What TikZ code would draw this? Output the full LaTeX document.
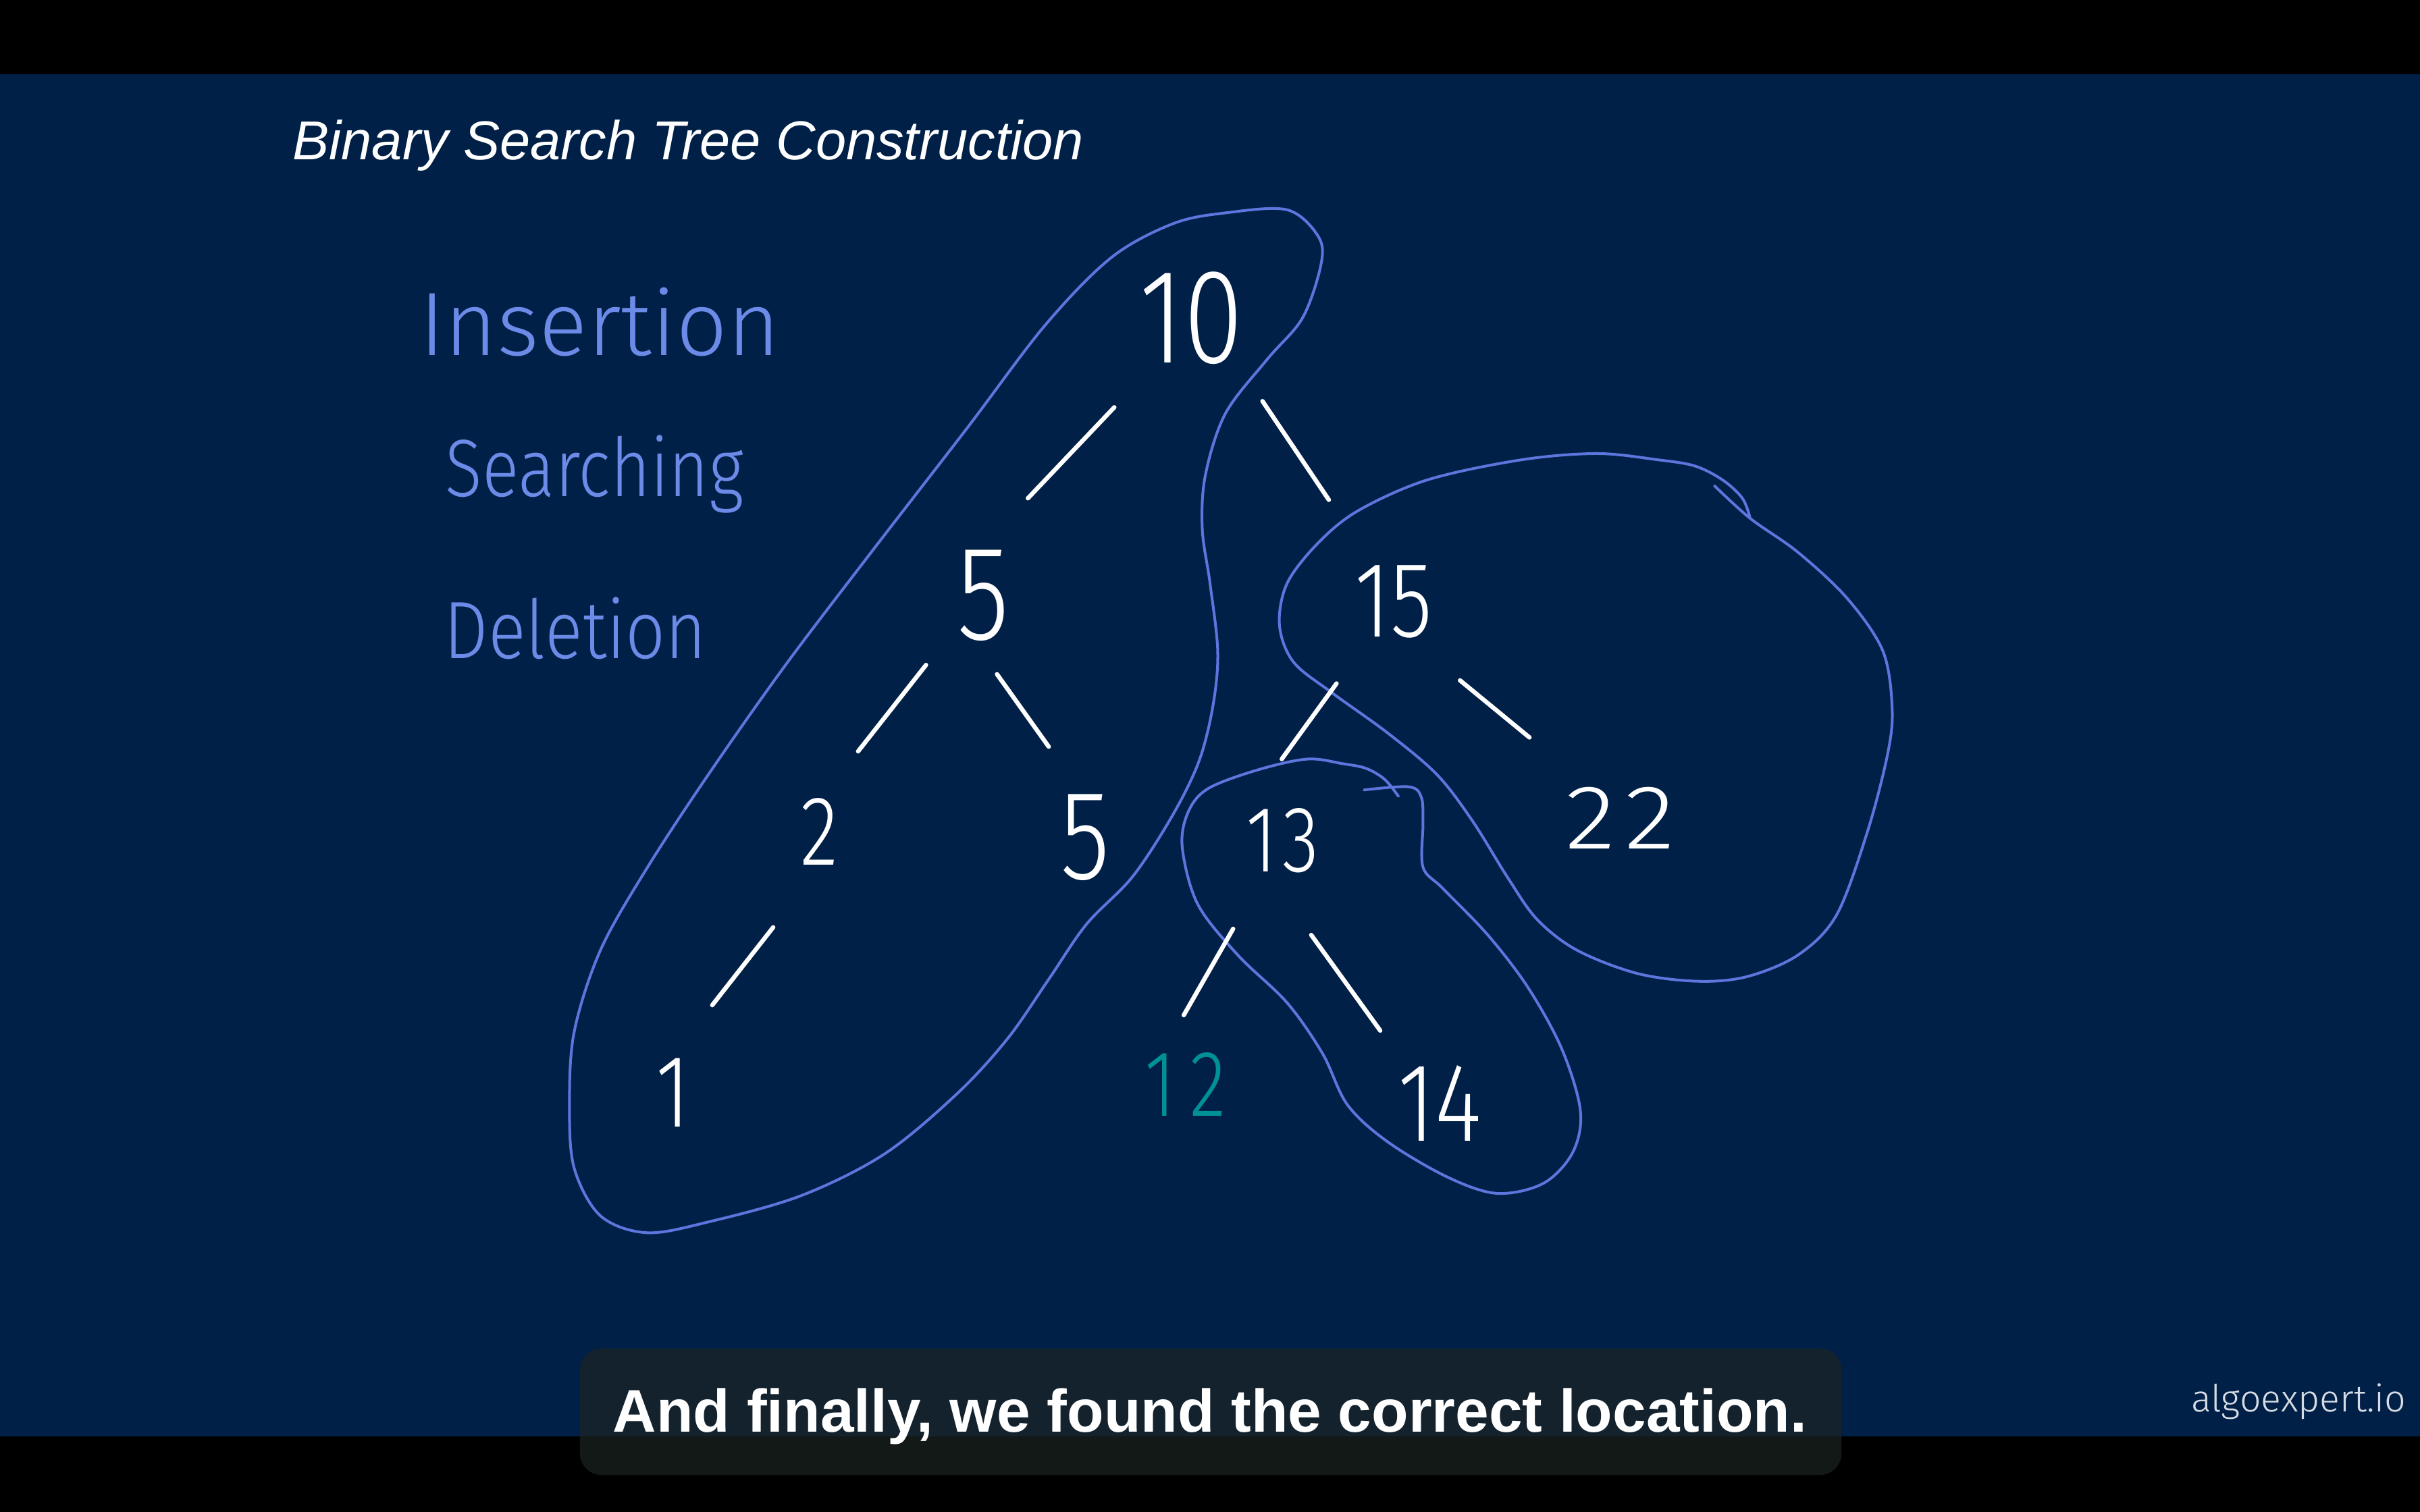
\documentclass[tikz,border=0pt]{standalone}
\usepackage{fontspec}
\usetikzlibrary{calc}
\setmainfont{Liberation Sans}
\IfFontExistsTF{Fira Sans Light}
 {\newfontfamily\handx{Fira Sans Light}[FakeStretch=0.8]}
 {\IfFontExistsTF{FiraSans-Light}
   {\newfontfamily\handx{FiraSans-Light}[FakeStretch=0.8]}
   {\newfontfamily\handx{Fira Sans}[FakeStretch=0.8]}}
\IfFontExistsTF{Fira Sans Light}
 {\newfontfamily\hand{Fira Sans Light}}
 {\IfFontExistsTF{FiraSans-Light}
   {\newfontfamily\hand{FiraSans-Light}}
   {\newfontfamily\hand{Fira Sans}}}
\newcommand\hsz[1]{\fontsize{#1pt}{#1pt}\selectfont}
\definecolor{navy}{RGB}{1,32,71}
\definecolor{peri}{RGB}{108,139,232}
\definecolor{blobc}{RGB}{92,118,222}
\definecolor{tealc}{RGB}{0,145,150}
\definecolor{capboxc}{RGB}{27,36,34}
\definecolor{wmark}{RGB}{215,220,228}
\tikzset{
  digit/.style={text=white, inner sep=0pt},
  edge/.style={draw=white, line width=0.8pt, line cap=round},
  blob/.style={draw=blobc, line width=0.5pt, line join=round, line cap=round},
  word/.style={text=peri, inner sep=0pt, anchor=base west},
}
\begin{document}
\begin{tikzpicture}[x=0.01cm, y=-0.01cm]
\useasboundingbox (0,0) rectangle (1568,980);
\fill[black] (0,0) rectangle (1568,980);
\fill[navy] (0,48) rectangle (1568,931);

% title
\node[text=white, inner sep=0pt, anchor=base west, font=\itshape\hsz{10.1}] (title) at (189,103.5) {Binary Search Tree Construction};

% handwritten list
\node[word, font=\hand\hsz{16.6}] (ins) at (271,230.5) {Insertion};
\node[word, font=\hand\hsz{15}\addfontfeature{FakeStretch=0.84}] (sea) at (288,321.6) {Searching};
\node[word, font=\hand\hsz{15}\addfontfeature{FakeStretch=0.86}] (del) at (287,427) {Deletion};

% blobs
\draw[blob] plot[smooth cycle, tension=0.55] coordinates {
 (834,136) (854,153) (856,171) (844,206) (821,233) (794,268) (781,308) (779,343)
 (784,378) (789,422) (786,457) (777,493) (760,528) (734,568) (704,599) (680,634)
 (653,673) (620,709) (573,748) (519,775) (459,792) (419,799) (389,788) (372,757)
 (369,717) (372,669) (389,616) (419,563) (459,502) (509,431) (566,356) (627,277)
 (677,211) (720,167) (760,145) (794,138)};
\draw[blob] plot[smooth, tension=0.55] coordinates {
 (1111,315) (1134,336) (1165,358) (1197,388) (1220,422) (1226,459) (1223,489)
 (1210,539) (1190,593) (1165,619) (1132,633) (1100,636) (1061,631) (1022,616)
 (996,596) (977,569) (954,532) (931,502) (899,475) (863,449) (838,429) (829,405)
 (834,378) (854,352) (880,331) (925,311) (986,298) (1035,294) (1074,298)
 (1098,302) (1116,311) (1129,323) (1134,336)};
\draw[blob] plot[smooth, tension=0.55] coordinates {
 (884,512) (913,510) (921,517) (922,534) (922,562) (935,576) (964,606) (990,640)
 (1012,680) (1024,720) (1019,747) (1000,767) (970,773.5) (938,763) (899,740)
 (873,716) (857,683) (834,650) (802,619) (776,586) (766,549) (770,526) (783,511)
 (815,499) (847,492) (870,495) (885,498) (897,505) (906,516)};

% tree nodes
\node[digit, font=\handx\hsz{24.8}] (n10) at (772,206) {10};
\node[digit, font=\handx\hsz{24.8}] (n5a) at (637,386) {5};
\node[digit, font=\handx\hsz{19.8}] (n15) at (903,390) {15};
\node[digit, font=\handx\hsz{18.2}] (n2) at (531,539) {2};
\node[digit, font=\handx\hsz{23.5}] (n5b) at (703,543) {5};
\node[digit, font=\handx\hsz{17.3}\addfontfeature{LetterSpace=6}] (n13) at (831,545) {13};
\node[digit, font=\handx\hsz{16.8}\addfontfeature{FakeStretch=1.15,LetterSpace=10}] (n22) at (1050,530) {22};
\node[digit, font=\handx\hsz{19}] (n1) at (436,708) {1};
\node[digit, text=tealc, font=\handx\hsz{17.3}\addfontfeature{LetterSpace=15}] (n12) at (768,703) {12};
\node[digit, font=\handx\hsz{20.6}] (n14) at (933,715) {14};

% connectors
\draw[edge] ($(n10)+(-50,58)$) -- ($(n5a)+(29,-63)$);
\draw[edge] ($(n10)+(46,54)$) -- ($(n15)+(-42,-66)$);
\draw[edge] ($(n5a)+(-37,45)$) -- ($(n2)+(25,-52)$);
\draw[edge] ($(n5a)+(9,51)$) -- ($(n5b)+(-23.5,-59)$);
\draw[edge] ($(n15)+(-37,53)$) -- ($(n13)+(-0.5,-53)$);
\draw[edge] ($(n15)+(43,51)$) -- ($(n22)+(-59,-52)$);
\draw[edge] ($(n2)+(-30,62)$) -- ($(n1)+(25.5,-56.5)$);
\draw[edge] ($(n13)+(-32,57)$) -- ($(n12)+(-1,-45)$);
\draw[edge] ($(n13)+(18.6,61)$) -- ($(n14)+(-38.7,-47)$);

% caption
\node[fill=capboxc, fill opacity=0.7, rounded corners=4, inner sep=0pt,
      minimum width=8.17cm, minimum height=0.82cm] (capbox) at (784.5,915) {};
\node[text=white, inner sep=0pt, anchor=base, font=\bfseries\hsz{11.1}] (captext) at (784,928)
  {And finally, we found the correct location.};

% watermark
\node[text=wmark, inner sep=0pt, anchor=base west, font=\hand\hsz{6.9}] (wm) at (1419,915) {algoexpert.io};
\end{tikzpicture}
\end{document}
